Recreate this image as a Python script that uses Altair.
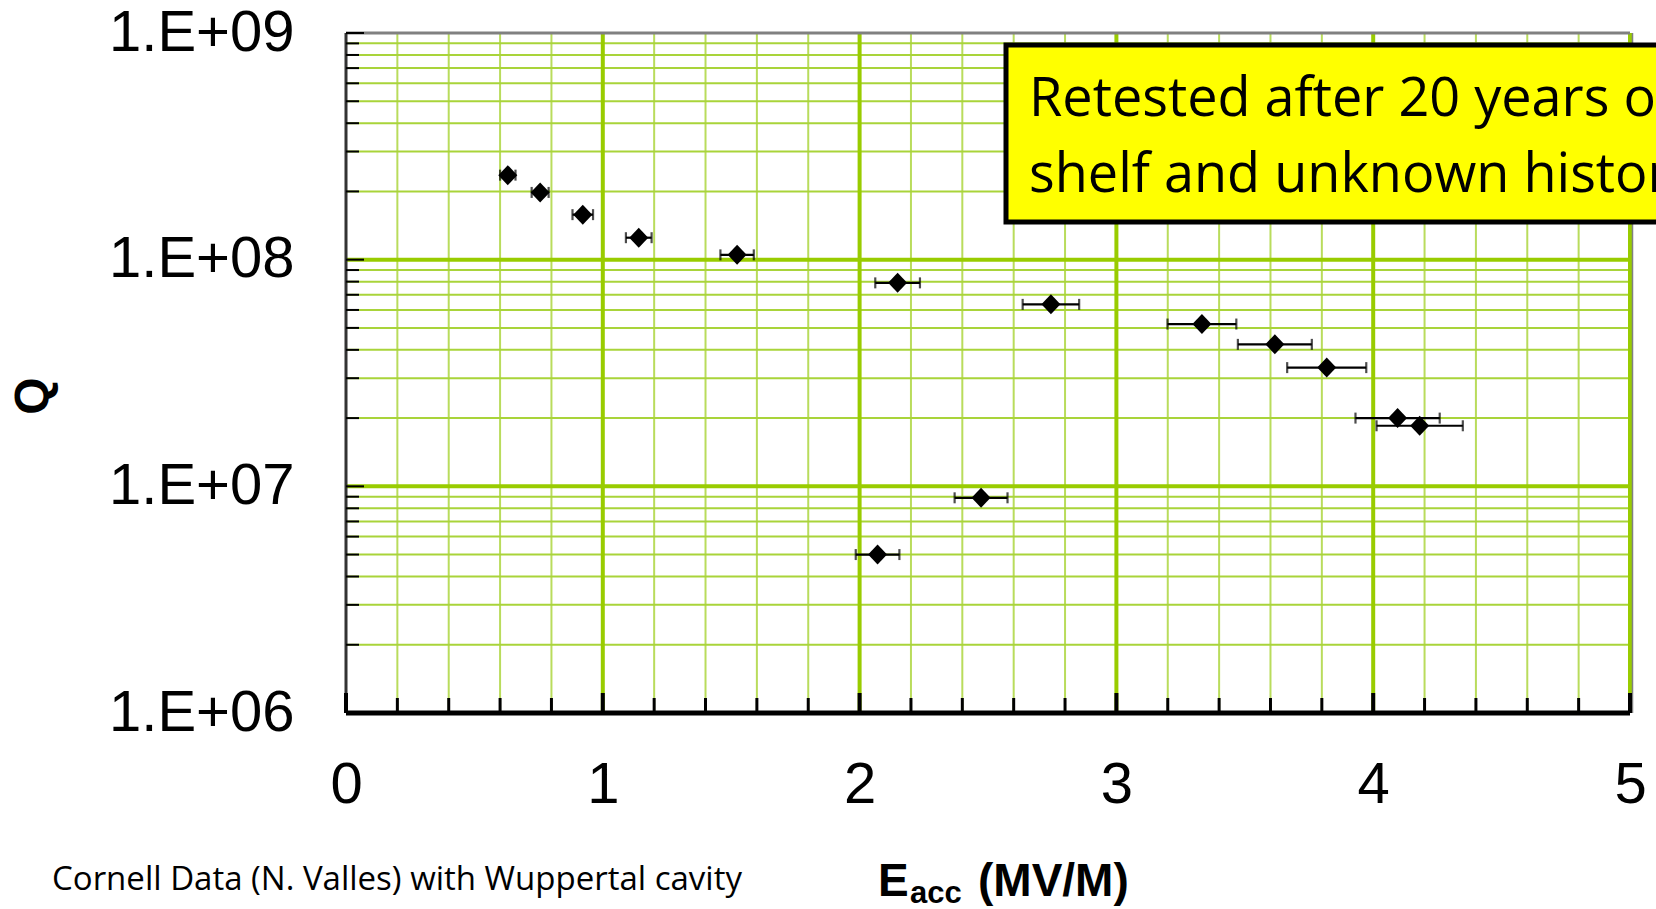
import altair as alt
import pandas as pd

# ---- data ----
e_acc = [0.63, 0.756, 0.922, 1.14, 1.523, 2.148, 2.745, 3.333, 3.617, 3.819, 4.095, 4.181, 2.473, 2.07]
q_val = [2.36e8, 1.98e8, 1.58e8, 1.25e8, 1.05e8, 7.9e7, 6.35e7, 5.2e7, 4.23e7, 3.34e7, 2.0e7, 1.85e7, 8.9e6, 5.0e6]
e_err = [0.03, 0.033, 0.04, 0.05, 0.065, 0.087, 0.11, 0.134, 0.144, 0.154, 0.164, 0.168, 0.103, 0.085]

x_ticks_major = [0, 1, 2, 3, 4, 5]
x_ticks_minor = [0.2, 0.4, 0.6, 0.8, 1.2, 1.4, 1.6, 1.8, 2.2, 2.4, 2.6, 2.8,
                 3.2, 3.4, 3.6, 3.8, 4.2, 4.4, 4.6, 4.8]
y_decades = [1e6, 1e7, 1e8, 1e9]
y_minor = [m * d for d in [1e6, 1e7, 1e8] for m in [2, 3, 4, 5, 6, 7, 8, 9]]

note_text = ["Cornell Data (N. Valles) with Wuppertal cavity"]
box_text = ["Retested after 20 years on\nshelf and unknown history"]
x_title_main = ["E"]
x_title_sub = ["acc"]
x_title_rest = ["(MV/M)"]
y_title = ["Q"]

W, H = 1284, 680
GREEN = "#99CC00"
GREEN_MINOR_V = "#B9DC5C"
GREEN_MINOR_H = "#A9D43A"

df = pd.DataFrame({"E": e_acc, "Q": q_val, "lo": [e - d for e, d in zip(e_acc, e_err)],
                   "hi": [e + d for e, d in zip(e_acc, e_err)]})
xs = alt.Scale(domain=[0, 5], nice=False, zero=False)
ys = alt.Scale(type="log", domain=[1e6, 1e9], nice=False)

x_axis = alt.Axis(values=x_ticks_major, format="d", labelFontSize=58, labelFont="Liberation Sans",
                  labelColor="black", labelPadding=43, ticks=False, tickSize=0, domain=False,
                  grid=False, title=None, labelFlush=False, labelOverlap=False, labelLimit=0,
                  labelBound=False)
y_axis = alt.Axis(values=y_decades, labelExpr="replace(format(datum.value, '.0e'), 'e+', '.E+0')",
                  labelFontSize=58, labelFont="Liberation Sans", labelColor="black", labelPadding=52,
                  ticks=False, tickSize=0, domain=False, grid=False, title=None, labelFlush=False,
                  labelOverlap=False, labelLimit=0, labelBound=False)

def X(field="v"):
    return alt.X(f"{field}:Q", scale=xs, axis=x_axis, title=None)

def Y(field="v"):
    return alt.Y(f"{field}:Q", scale=ys, axis=y_axis, title=None)

vminor = pd.DataFrame({"v": x_ticks_minor})
vmajor = pd.DataFrame({"v": x_ticks_major[1:]})
hminor = pd.DataFrame({"v": y_minor})
hmajor = pd.DataFrame({"v": y_decades[1:3]})
ydec = pd.DataFrame({"v": y_decades})
xmaj = pd.DataFrame({"v": x_ticks_major})

layers = []
# grid
layers.append(alt.Chart(vminor).mark_rule(color=GREEN_MINOR_V, strokeWidth=2).encode(x=X()))
layers.append(alt.Chart(hminor).mark_rule(color=GREEN_MINOR_H, strokeWidth=2).encode(y=Y()))
layers.append(alt.Chart(vmajor).mark_rule(color=GREEN, strokeWidth=4).encode(x=X()))
layers.append(alt.Chart(hmajor).mark_rule(color=GREEN, strokeWidth=4).encode(y=Y()))
# borders
layers.append(alt.Chart(pd.DataFrame({"v": [1e9]})).mark_rule(color="#808080", strokeWidth=3).encode(y=Y()))
layers.append(alt.Chart(pd.DataFrame({"v": [5]})).mark_rule(color="#808080", strokeWidth=1.5, xOffset=2.5).encode(x=X()))
layers.append(alt.Chart(pd.DataFrame({"v": [0]})).mark_rule(color="#333333", strokeWidth=3).encode(x=X()))
# left ticks
layers.append(alt.Chart(hminor).mark_rule(color="black", strokeWidth=2).encode(
    y=Y(), x=alt.value(0), x2=alt.value(13)))
layers.append(alt.Chart(ydec).mark_rule(color="black", strokeWidth=2).encode(
    y=Y(), x=alt.value(0), x2=alt.value(18)))
# bottom axis + ticks
layers.append(alt.Chart(pd.DataFrame({"v": [1e6]})).mark_rule(color="black", strokeWidth=5).encode(
    y=Y(), x=alt.value(0), x2=alt.value(W)))
layers.append(alt.Chart(vminor).mark_rule(color="black", strokeWidth=3).encode(
    x=X(), y=alt.value(H), y2=alt.value(H - 15)))
layers.append(alt.Chart(xmaj).mark_rule(color="black", strokeWidth=4).encode(
    x=X(), y=alt.value(H), y2=alt.value(H - 20)))
# error bars
layers.append(alt.Chart(df).mark_rule(color="black", strokeWidth=2.2).encode(
    x=X("lo"), x2="hi:Q", y=Y("Q")))
layers.append(alt.Chart(df).mark_tick(color="black", orient="vertical", size=11, thickness=2.2).encode(
    x=X("lo"), y=Y("Q")))
layers.append(alt.Chart(df).mark_tick(color="black", orient="vertical", size=11, thickness=2.2).encode(
    x=X("hi"), y=Y("Q")))
# points
layers.append(alt.Chart(df).mark_point(shape="M-0.95,0L0,-1L0.95,0L0,1Z", size=400, filled=True,
                                       color="black", opacity=1).encode(x=X("E"), y=Y("Q")))
# annotation box
box_df = pd.DataFrame({"t": box_text})
layers.append(alt.Chart(box_df).mark_rect(fill="#FFFF00", stroke="black", strokeWidth=5).encode(
    x=alt.value(660), x2=alt.value(1400), y=alt.value(12), y2=alt.value(189)))
layers.append(alt.Chart(box_df).mark_text(align="left", baseline="middle", font="Open Sans",
                                          fontSize=54, lineHeight=76, lineBreak="\n",
                                          color="black").encode(
    text="t:N", x=alt.value(683), y=alt.value(67)))
# titles and note
layers.append(alt.Chart(pd.DataFrame({"t": x_title_main})).mark_text(
    align="left", baseline="middle", font="Liberation Sans", fontWeight="bold", fontSize=46, color="black").encode(
    text="t:N", x=alt.value(532), y=alt.value(849)))
layers.append(alt.Chart(pd.DataFrame({"t": x_title_sub})).mark_text(
    align="left", baseline="middle", font="Liberation Sans", fontWeight="bold", fontSize=31, color="black").encode(
    text="t:N", x=alt.value(564), y=alt.value(861)))
layers.append(alt.Chart(pd.DataFrame({"t": x_title_rest})).mark_text(
    align="left", baseline="middle", font="Liberation Sans", fontWeight="bold", fontSize=46, color="black").encode(
    text="t:N", x=alt.value(632), y=alt.value(849)))
layers.append(alt.Chart(pd.DataFrame({"t": y_title})).mark_text(
    align="center", baseline="middle", font="Liberation Sans", fontWeight="bold", fontSize=48, angle=270,
    color="black").encode(text="t:N", x=alt.value(-312), y=alt.value(363)))
layers.append(alt.Chart(pd.DataFrame({"t": note_text})).mark_text(
    align="left", baseline="middle", font="Open Sans", fontSize=33, color="black").encode(
    text="t:N", x=alt.value(-294), y=alt.value(847)))

chart = alt.layer(*layers).properties(
    width=W, height=H,
    autosize=alt.AutoSizeParams(type="none"),
    padding={"left": 346, "top": 33, "right": 26, "bottom": 196},
    background="white",
).configure_view(stroke=None)

chart.save("out.html", embed_options={"renderer": "svg", "actions": False})
